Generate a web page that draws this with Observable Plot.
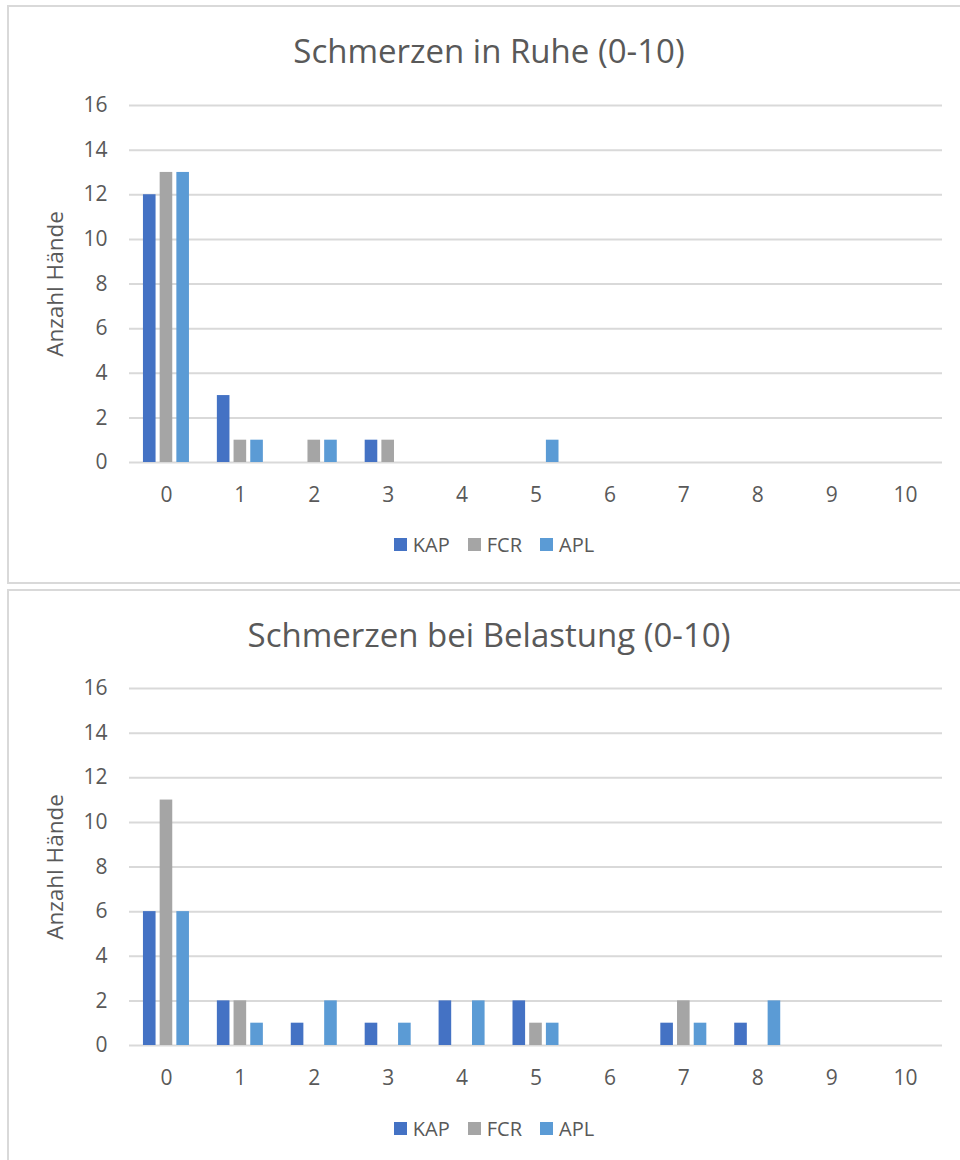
<!DOCTYPE html>
<html>
<head>
<meta charset="utf-8">
<script src="https://cdn.jsdelivr.net/npm/d3@7"></script>
<script src="https://cdn.jsdelivr.net/npm/@observablehq/plot@0.6"></script>
<style>
  html, body { margin: 0; padding: 0; background: #fff; overflow: hidden; }
  body { width: 960px; height: 1160px; position: relative; font-family: "Open Sans", "Noto Sans", sans-serif; color: #595959; }
  .panel { position: absolute; border: 2px solid #d9d9d9; box-sizing: border-box; background: #fff; }
  .title { position: absolute; left: 0; width: 978px; text-align: center; font-size: 33px; line-height: 33px; color: #595959; white-space: nowrap; }
  .chart { position: absolute; left: 0; }
  .chart svg g[aria-label="y-axis label"] { font-size: 22.5px; }
  .legend { position: absolute; left: 0; width: 988px; display: flex; justify-content: center; align-items: center; font-size: 20px; color: #595959; }
  .legend .item { display: flex; align-items: center; margin: 0 9px; }
  .legend .sw { width: 13px; height: 13px; margin-right: 6px; }
</style>
</head>
<body>
<div class="panel" style="left:7px; top:5px; width:960px; height:579px;"></div>
<div class="panel" style="left:7px; top:589px; width:960px; height:590px;"></div>
<div class="title" id="t1" style="top:34px;"></div>
<div class="title" id="t2" style="top:618px;"></div>
<div class="chart" id="c1" style="top:80px;"></div>
<div class="chart" id="c2" style="top:663px;"></div>
<div class="legend" id="l1" style="top:531px;"></div>
<div class="legend" id="l2" style="top:1115px;"></div>
<script>
const categories = ["0", "1", "2", "3", "4", "5", "6", "7", "8", "9", "10"];
const seriesNames = ["KAP", "FCR", "APL"];
const seriesColors = ["#4472C4", "#A5A5A5", "#5B9BD5"];
const yTicks = [0, 2, 4, 6, 8, 10, 12, 14, 16];
const yLabel = "Anzahl Hände";

const title1 = "Schmerzen in Ruhe (0-10)";
const ruheKAP = [12, 3, 0, 1, 0, 0, 0, 0, 0, 0, 0];
const ruheFCR = [13, 1, 1, 1, 0, 0, 0, 0, 0, 0, 0];
const ruheAPL = [13, 1, 1, 0, 0, 1, 0, 0, 0, 0, 0];

const title2 = "Schmerzen bei Belastung (0-10)";
const belKAP = [6, 2, 1, 1, 2, 2, 0, 1, 1, 0, 0];
const belFCR = [11, 2, 0, 0, 0, 1, 0, 2, 0, 0, 0];
const belAPL = [6, 1, 2, 1, 2, 1, 0, 1, 2, 0, 0];

function rows(values) {
  return categories.map((c, i) => ({cat: c, value: values[i]}));
}

function makeChart(seriesValues) {
  const barW = 12.6, step = 16.7;
  const bandW = (960 - 129 - 18) / categories.length;
  const inset = (bandW - barW) / 2;
  const barMarks = seriesValues.map((vals, i) =>
    Plot.barY(rows(vals).filter(d => d.value > 0), {
      x: "cat", y: "value", fill: seriesColors[i],
      dx: (i - 1) * step, insetLeft: inset, insetRight: inset
    })
  );
  return Plot.plot({
    width: 960,
    height: 432,
    marginLeft: 129,
    marginRight: 18,
    marginTop: 25,
    marginBottom: 50,
    style: {fontFamily: "'Open Sans', 'Noto Sans', sans-serif", fontSize: "21px", color: "#595959", background: "transparent", overflow: "visible"},
    x: {type: "band", domain: categories, padding: 0, round: false, label: null, tickSize: 0, tickPadding: 25},
    y: {domain: [0, 16], ticks: yTicks, tickSize: 0, tickPadding: 22, label: yLabel, labelArrow: false, labelAnchor: "center", labelOffset: 82},
    marks: [
      Plot.ruleY(yTicks, {stroke: "#d9d9d9", strokeWidth: 2}),
      ...barMarks
    ]
  });
}

function makeLegend(el) {
  seriesNames.forEach((name, i) => {
    const item = document.createElement("div");
    item.className = "item";
    const sw = document.createElement("div");
    sw.className = "sw";
    sw.style.background = seriesColors[i];
    const tx = document.createElement("span");
    tx.textContent = name;
    item.appendChild(sw);
    item.appendChild(tx);
    el.appendChild(item);
  });
}

document.getElementById("t1").textContent = title1;
document.getElementById("t2").textContent = title2;
document.getElementById("c1").appendChild(makeChart([ruheKAP, ruheFCR, ruheAPL]));
document.getElementById("c2").appendChild(makeChart([belKAP, belFCR, belAPL]));
makeLegend(document.getElementById("l1"));
makeLegend(document.getElementById("l2"));
</script>
</body>
</html>
